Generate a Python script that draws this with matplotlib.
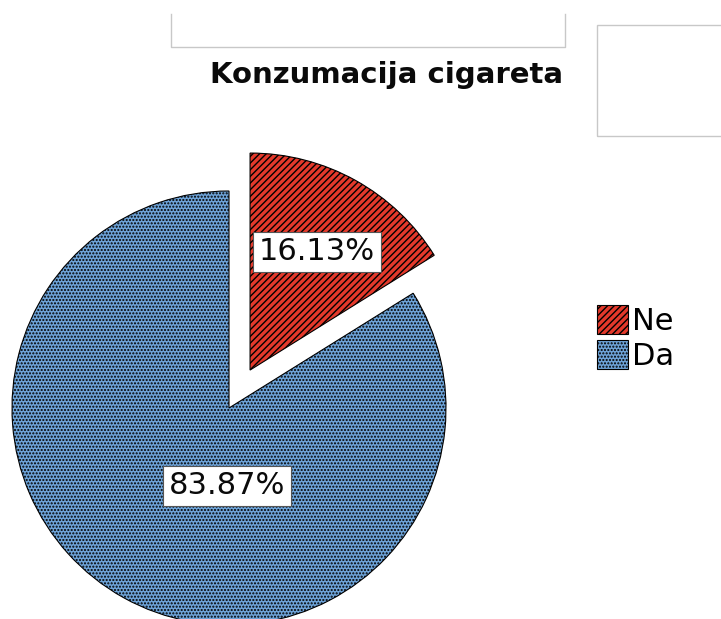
import numpy as np
import matplotlib
matplotlib.use('Agg')
import matplotlib.pyplot as plt
from matplotlib.patches import Rectangle

labels = ['Ne', 'Da']
values = [16.13, 83.87]
colors = ['#e4392b', '#6da3d8']
hatch_colors = ['#3a0d08', '#44699c']
hatches = ['/////', '.....']
hatch_widths = [1.5, 0.8]
explode_frac = [0.2, 0.0]

R = 217
fig = plt.figure(figsize=(7.21, 6.19), dpi=100)
ax = fig.add_axes([0, 0, 1, 1])

# pie() does not scale explode by the radius, so do it here
wedges, texts = ax.pie(values, colors=colors,
                       explode=[e * R for e in explode_frac], startangle=90,
                       counterclock=False, center=(229, 211), radius=R,
                       wedgeprops=dict(edgecolor='black', linewidth=0.8))
for w, h, hc, hw in zip(wedges, hatches, hatch_colors, hatch_widths):
    w.set_hatch(h)
    try:
        w.set_hatchcolor(hc)
        w.set_hatch_linewidth(hw)
    except AttributeError:
        pass

ax.set_xlim(0, 721)
ax.set_ylim(0, 619)
ax.set_aspect('equal')
ax.axis('off')

# percent labels inside the slices
lab_pos = [(317, 367), (227, 133)]
for (x, y), v in zip(lab_pos, values):
    ax.text(x, y, '%.2f%%' % v, fontsize=22, ha='center', va='center',
            color='#0a0a0a',
            bbox=dict(boxstyle='square,pad=0.18', fc='white', ec='#555555', lw=0.8))

# gray frames at the top
ax.plot([171, 171, 565, 565], [605, 572, 572, 605], color='#c8c8c8', lw=1)
ax.add_patch(Rectangle((597, 483), 130, 111, fill=False, ec='#c8c8c8', lw=1))

ax.text(387, 544, 'Konzumacija cigareta', fontsize=21, fontweight='bold',
        ha='center', va='center', color='#0a0a0a')

leg = ax.legend(wedges, labels, loc='upper left', bbox_to_anchor=(0.807, 0.532),
                frameon=False, fontsize=22, handlelength=1.0, handleheight=1.1,
                handletextpad=0.15, labelspacing=0.12, borderpad=0)

fig.savefig('out.png', dpi=100)
